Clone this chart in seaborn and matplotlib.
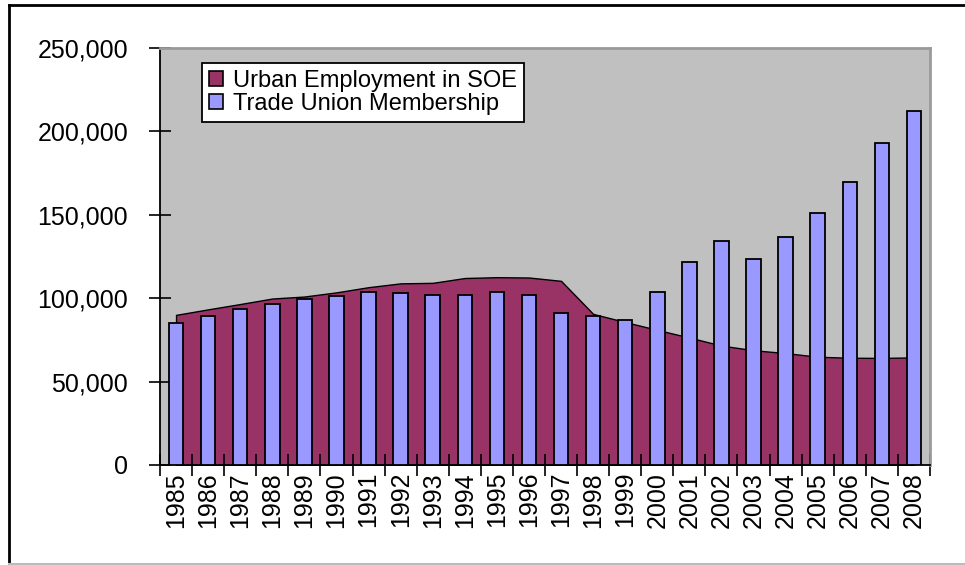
import matplotlib
matplotlib.use("Agg")
import matplotlib.pyplot as plt
from matplotlib.patches import Patch
from matplotlib.lines import Line2D
from matplotlib.ticker import StrMethodFormatter
import seaborn as sns

# -----------------------------
# DATA (thousands of persons)
# -----------------------------
years = [str(y) for y in range(1985, 2009)]

# urban employment in state-owned enterprises (area)
soe_employment = [90000, 93300, 96500, 99800, 101000, 103500, 106600, 108900,
                  109200, 112100, 112600, 112400, 110400, 90600, 85700, 81000,
                  76400, 71600, 68800, 67100, 64900, 64300, 64200, 64500]

# trade union membership (bars)
union_members = [85300, 89500, 93800, 96500, 99600, 101400, 103900, 103300,
                 101800, 101700, 104000, 102000, 91300, 89100, 86900, 103600,
                 121500, 134000, 123400, 136900, 151000, 169900, 193300, 212200]

labels = ["Urban Employment in SOE", "Trade Union Membership"]

area_color = "#993366"
bar_color = "#9999FF"

plt.rcParams["font.family"] = ["Liberation Sans", "DejaVu Sans"]

fig = plt.figure(figsize=(9.65, 5.65), dpi=100)
ax = fig.add_axes([160 / 965, 100 / 565, 770 / 965, 417 / 565])
ax.set_facecolor("#C0C0C0")

# area first so the bars sit on top of it
x = list(range(len(years)))
ax.fill_between(x, soe_employment, 0, facecolor=area_color,
                edgecolor="black", linewidth=1.0, zorder=1)

sns.barplot(x=years, y=union_members, color=bar_color, saturation=1,
            width=0.45, edgecolor="black", linewidth=1.3, ax=ax)
for p in ax.patches:
    p.set_zorder(3)

ax.set_xlim(-0.5, len(years) - 0.5)
ax.set_ylim(0, 250000)
ax.set_yticks([0, 50000, 100000, 150000, 200000, 250000])
ax.yaxis.set_major_formatter(StrMethodFormatter("{x:,.0f}"))
ax.set_xlabel("")
ax.set_ylabel("")

# ticks on category boundaries, labels at centers
ax.set_xticks(x)
ax.set_xticklabels(years, rotation=90, fontsize=18)
ax.set_xticks([i - 0.5 for i in range(len(years) + 1)], minor=True)
ax.tick_params(axis="x", which="major", length=0, pad=5)
ax.tick_params(axis="x", which="minor", direction="inout", length=16,
               width=1.2, color="black")
ax.tick_params(axis="y", direction="inout", length=16, width=1.2,
               labelsize=18, pad=15)

for side in ["left", "bottom"]:
    ax.spines[side].set_color("black")
    ax.spines[side].set_linewidth(1.3)
for side in ["top", "right"]:
    ax.spines[side].set_color("#9A9A9A")
    ax.spines[side].set_linewidth(2)

handles = [Patch(facecolor=area_color, edgecolor="black", linewidth=1.2),
           Patch(facecolor=bar_color, edgecolor="black", linewidth=1.2)]
leg = ax.legend(handles, labels, loc="upper left",
                bbox_to_anchor=(42 / 770, 402 / 417), borderaxespad=0,
                fontsize=17, fancybox=False, framealpha=1, edgecolor="black",
                handlelength=0.6, handleheight=0.6, handletextpad=0.4,
                labelspacing=0.05, borderpad=0.3)
leg.get_frame().set_linewidth(1.3)
leg.set_zorder(5)

# outer chart border (cropped on the right)
fig.add_artist(Line2D([9 / 965, 9 / 965], [0, 1 - 5 / 565], color="black",
                      linewidth=2, transform=fig.transFigure))
fig.add_artist(Line2D([9 / 965, 1], [1 - 5 / 565, 1 - 5 / 565], color="black",
                      linewidth=2, transform=fig.transFigure))
fig.add_artist(Line2D([9 / 965, 1], [1.5 / 565, 1.5 / 565], color="#BBBBBB",
                      linewidth=1.5, transform=fig.transFigure))

fig.savefig("out.png", dpi=100)
